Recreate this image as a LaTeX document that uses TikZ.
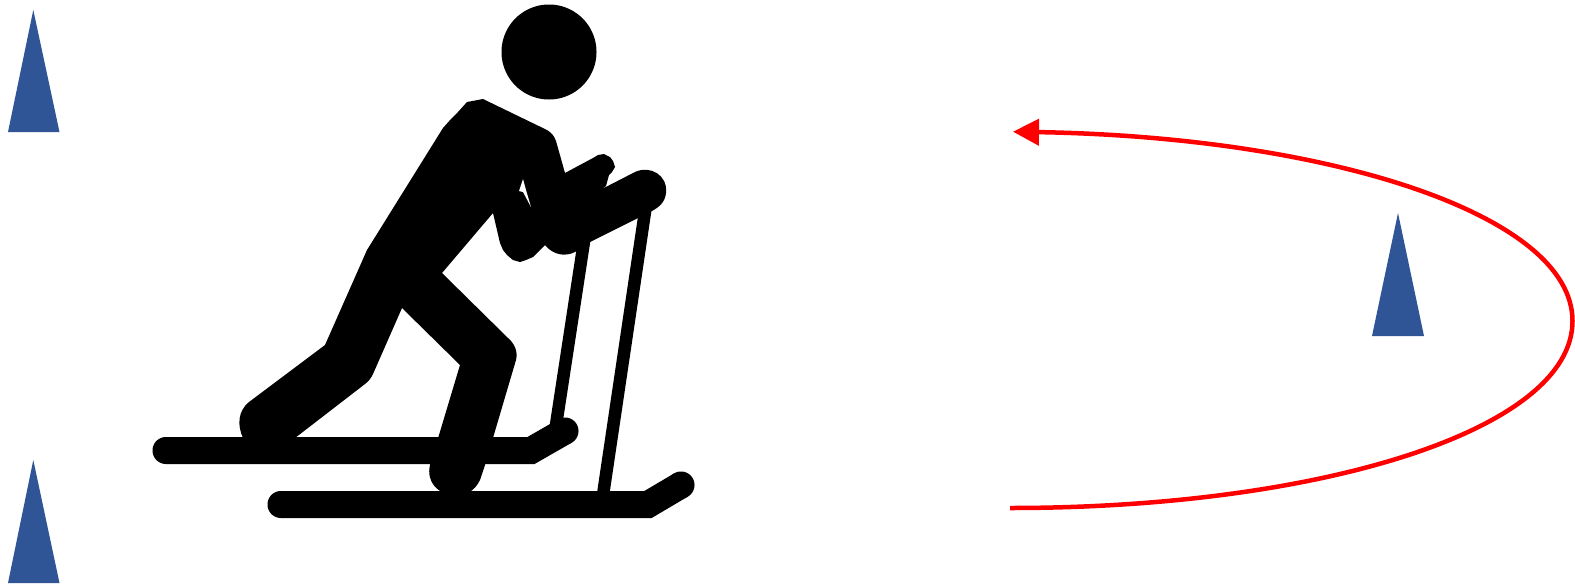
\documentclass[tikz,border=0pt]{standalone}
\usetikzlibrary{arrows.meta}
\definecolor{coneblue}{HTML}{2F5597}
\newcommand{\skdisc}[3]{\fill[ink] plot[domain=0:360,samples=181] ({#1+#3*cos(\x)},{#2+#3*sin(\x)}) -- cycle;}
\tikzset{
  x=1pt,y=-1pt,
  cone/.style={fill=coneblue,draw=none},
  ink/.style={fill=black,draw=none},
  skibar/.style={draw=black,line width=27pt,line cap=butt,line join=miter},
  polebar/.style={draw=black,line width=12.5pt},
  trackline/.style={draw=red,line width=4.5pt,-{Triangle[length=26pt,width=26pt,fill=red]}}
}
\begin{document}
\begin{tikzpicture}
\useasboundingbox (0,0) rectangle (1575,584);
\fill[cone] (33.3,10) -- (59.5,132) -- (8,132) -- cycle;
\fill[cone] (33.3,460) -- (59.5,583) -- (8,583) -- cycle;
\fill[cone] (1398,213) -- (1424,336) -- (1372,336) -- cycle;
\draw[trackline] (1010,508) .. controls (1320,508) and (1572.5,430) .. (1572.5,321)
  .. controls (1572.5,215) and (1330,137) .. (1013,131.7);
% skier
\skdisc{549}{52}{47.5}
\draw[skibar] (166,450.5) -- (531,450.5) -- (565,431);
\draw[skibar] (281,504.5) -- (648,504.5) -- (681,485);
\skdisc{166}{450.5}{13.5}
\skdisc{565}{431}{13.5}
\skdisc{281}{504.5}{13.5}
\skdisc{681}{485}{13.5}
\draw[polebar] (585,235) -- (556,425);
\draw[polebar] (646,205) -- (603,495);
\fill[ink] (443,128) -- (451,119) -- (458,112) -- (467,102) -- (483,99) -- (547,130)
  .. controls (552,133) and (554,136) .. (556,141)
  -- (565,173) -- (593,158) -- (598,155) -- (604,154) -- (610,157) -- (613,161) -- (615,167) -- (612,172) -- (609,175) -- (606,186)
  -- (600,190) -- (635,172)
  .. controls (650,165) and (668,175) .. (666,193)
  .. controls (665,203) and (658,208) .. (650,212)
  -- (590,242) -- (575,252)
  .. controls (565,257) and (553,255) .. (545,245)
  -- (538,252) -- (533,257) -- (526,260) -- (520,262) -- (513,260) -- (507,255) -- (503,250) -- (500,243) -- (493,213)
  -- (442,273) -- (508,338)
  .. controls (515,344) and (518,352) .. (516,360)
  -- (485,465) -- (480,480)
  .. controls (474,492) and (466,495) .. (455,495)
  .. controls (438,495) and (426,482) .. (430,465)
  -- (460,365) -- (402,308) -- (373,374)
  .. controls (371,378) and (369,381) .. (365,384)
  -- (295,438) -- (243,438)
  .. controls (237,425) and (238,411) .. (249,402)
  -- (325,345) -- (367,250) -- cycle;
\fill[white] (523,179) -- (526,190) -- (531,207) -- (523,192) -- (519,191) -- cycle;
\end{tikzpicture}
\end{document}
